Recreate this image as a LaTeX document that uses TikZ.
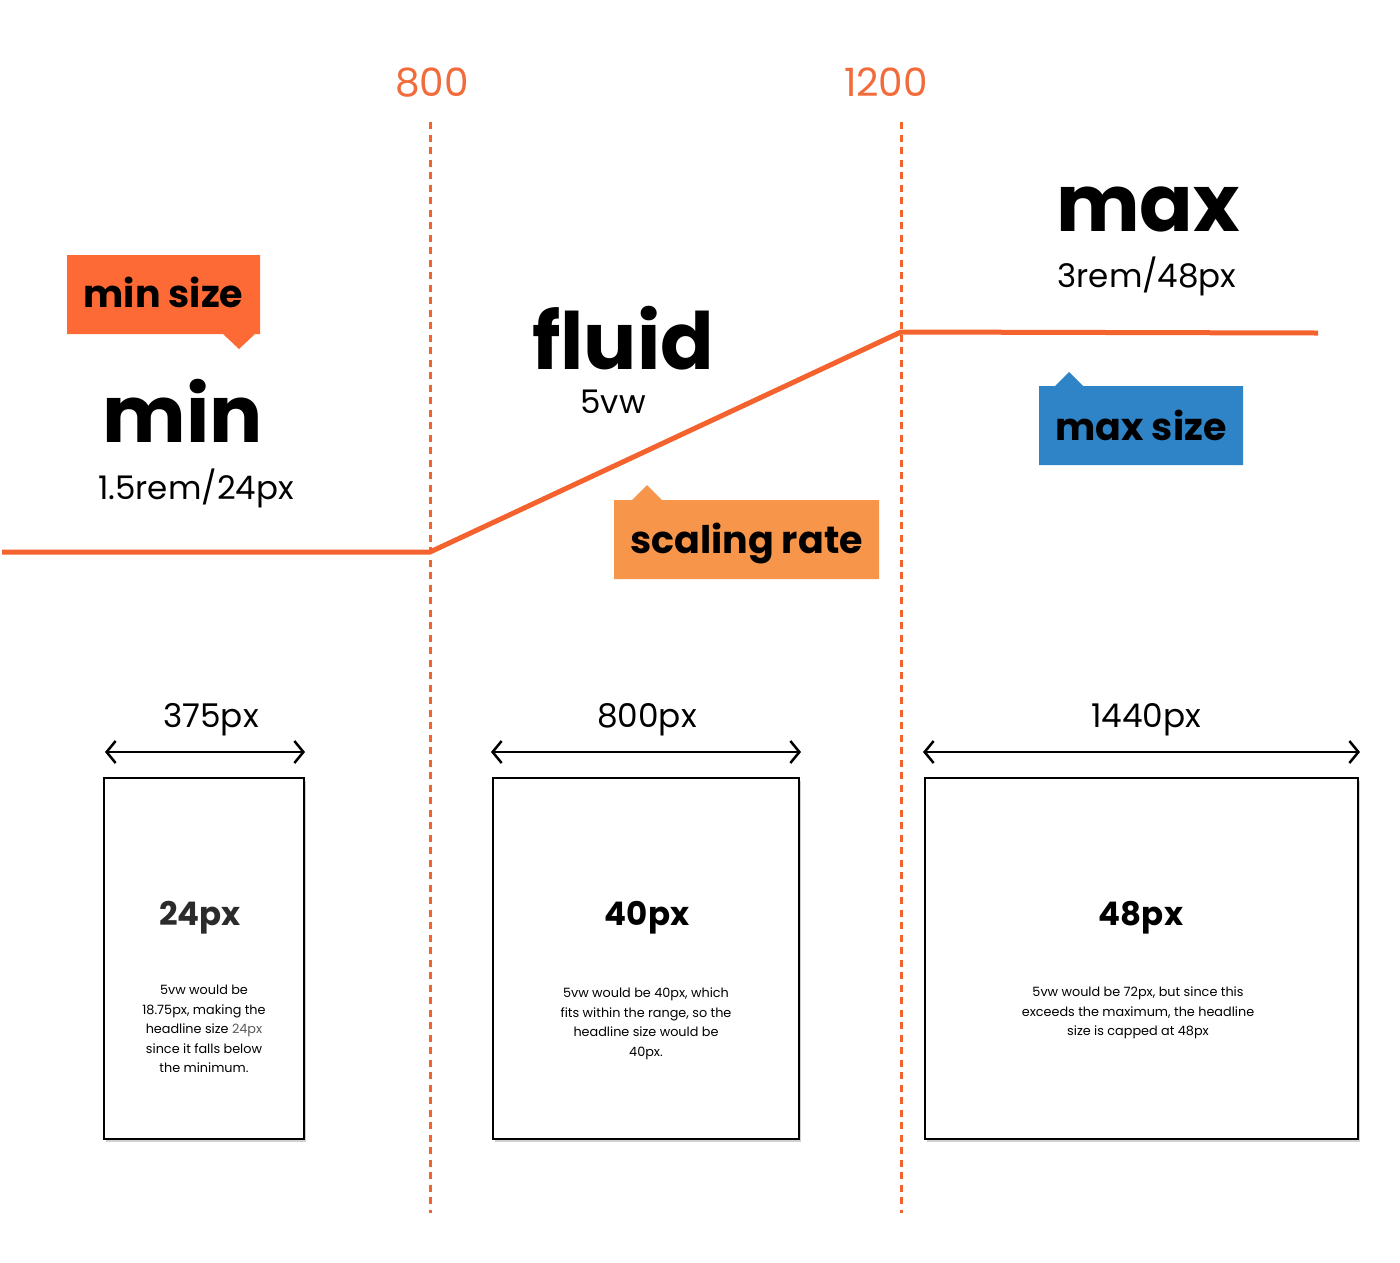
\documentclass[tikz,border=0pt]{standalone}
\usepackage{fontspec}
\setmainfont{Poppins}
\usetikzlibrary{arrows.meta}
\definecolor{lineor}{HTML}{F4622E}
\definecolor{numor}{HTML}{F26B3A}
\definecolor{minbox}{HTML}{FD6A35}
\definecolor{ratebox}{HTML}{F7954A}
\definecolor{maxbox}{HTML}{2E84C6}
\definecolor{headgray}{HTML}{2B2B2B}
\tikzset{
  every node/.style={inner sep=0pt},
  bignum/.style={anchor=base, text=numor, font=\fontsize{39}{39}\selectfont},
  huge/.style={anchor=base, text depth=0pt, font=\fontsize{79}{79}\selectfont\bfseries},
  sub/.style={anchor=base, font=\fontsize{32.5}{32.5}\selectfont},
  tag/.style={anchor=base, font=\fontsize{38}{38}\selectfont\bfseries},
  dim/.style={anchor=base, font=\fontsize{32.7}{32.7}\selectfont},
  head/.style={anchor=base, font=\fontsize{32.5}{32.5}\selectfont\bfseries},
  note/.style={anchor=north, align=center, font=\fontsize{12.8}{19.5}\selectfont},
  vline/.style={lineor, line width=3pt, dash pattern=on 7pt off 5.5pt},
  curve/.style={lineor, line width=5pt, line join=miter},
  dimarrow/.style={line width=2.5pt, {Straight Barb[length=9pt,width=22pt,line width=2.5pt]}-{Straight Barb[length=9pt,width=22pt,line width=2.5pt]}},
  screen/.style={draw=black, line width=2pt, fill=white},
  shadow/.style={fill=black!18}
}
\begin{document}
\begin{tikzpicture}[x=1pt,y=-1pt]
\useasboundingbox[fill=white] (0,0) rectangle (1400,1262);

% breakpoint labels
\node[bignum] (n800) at (432,96) {800};
\node[bignum] (n1200) at (886,96) {1200};

% dashed breakpoints
\coordinate (a1) at (430,122); \coordinate (a2) at (430,1213);
\coordinate (b1) at (901,122); \coordinate (b2) at (901,1213);
\draw[vline] (a1) -- (a2);
\draw[vline] (b1) -- (b2);

% size curve
\coordinate (c0) at (2,552);
\coordinate (c1) at (430,552);
\coordinate (c2) at (901,332);
\coordinate (c3) at (1318,333);
\draw[curve] (c0) -- (c1) -- (c2) -- (c3);

% callouts
\fill[minbox] (67,255) -- (260,255) -- (260,334) -- (255,334) -- (239,349) -- (223,334) -- (67,334) -- cycle;
\node[tag] (minsize) at (163.5,307) {min size};

\fill[maxbox] (1039,386) -- (1055,386) -- (1069,372) -- (1083,386) -- (1243,386) -- (1243,465) -- (1039,465) -- cycle;
\node[tag] (maxsize) at (1141,440) {max size};

\fill[ratebox] (614,500) -- (632,500) -- (647,485) -- (662,500) -- (879,500) -- (879,579) -- (614,579) -- cycle;
\node[tag] (rate) at (746.5,553) {scaling rate};

% big words
\node[huge] (min) at (183,442) {min};
\node[sub] (minv) at (196,499) {1.5rem/24px};
\node[huge] (fluid) at (623,369) {fluid};
\node[sub] (fluidv) at (613,413) {5vw};
\node[huge] (max) at (1148,231) {max};
\node[sub] (maxv) at (1147,287) {3rem/48px};

% dimension labels and arrows
\node[dim] (d1) at (211,727) {375px};
\node[dim] (d2) at (647,727) {800px};
\node[dim] (d3) at (1146,727) {1440px};
\coordinate (e1l) at (105,752); \coordinate (e1r) at (305,752);
\coordinate (e2l) at (491,752); \coordinate (e2r) at (801,752);
\coordinate (e3l) at (923,752); \coordinate (e3r) at (1360,752);
\draw[dimarrow] (e1l) -- (e1r);
\draw[dimarrow] (e2l) -- (e2r);
\draw[dimarrow] (e3l) -- (e3r);

% screens
\fill[shadow] (106,781) rectangle (306,1142);
\draw[screen] (104,778) rectangle (304,1139);
\fill[shadow] (495,781) rectangle (801,1142);
\draw[screen] (493,778) rectangle (799,1139);
\fill[shadow] (927,781) rectangle (1360,1142);
\draw[screen] (925,778) rectangle (1358,1139);

\node[head, text=headgray] (h1) at (200,925) {24px};
\node[head] (h2) at (647,925) {40px};
\node[head] (h3) at (1141,925) {48px};

\node[note] (t1) at (204,985) {5vw would be\\18.75px, making the\\headline size {\color{black!65}24px}\\since it falls below\\the minimum.};
\node[note] (t2) at (646,988) {5vw would be 40px, which\\fits within the range, so the\\headline size would be\\40px.};
\node[note] (t3) at (1138,987) {5vw would be 72px, but since this\\exceeds the maximum, the headline\\size is capped at 48px};
\end{tikzpicture}
\end{document}
